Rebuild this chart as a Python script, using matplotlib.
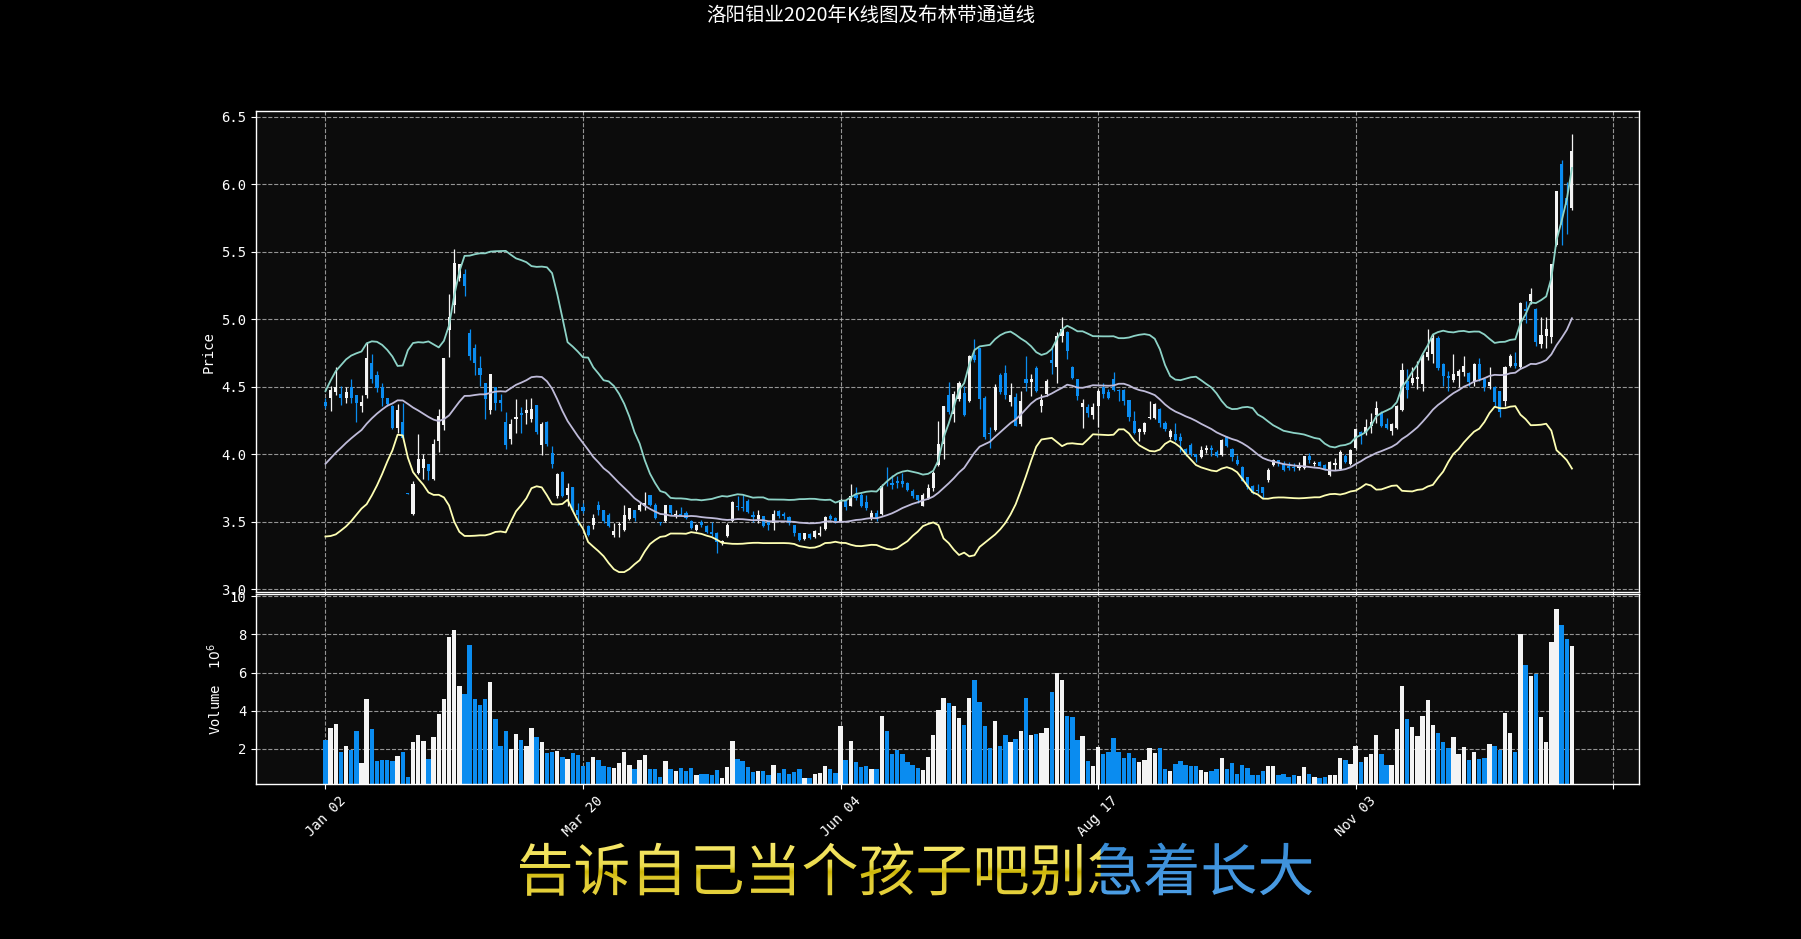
import numpy as np
import pandas as pd
import matplotlib
matplotlib.use('Agg')
import matplotlib.pyplot as plt
from matplotlib.patches import PathPatch
from matplotlib.textpath import TextPath
from matplotlib.font_manager import FontProperties
from matplotlib.transforms import Affine2D

plt.style.use('dark_background')
plt.rcParams['font.family'] = ['DejaVu Sans Mono', 'Noto Sans CJK SC']
plt.rcParams['axes.unicode_minus'] = False

# ---- data -------------------------------------------------------------
# closing prices of the last 19 sessions of Dec 2019 (warm-up for the 20-day band)
prev_closes = [3.66, 3.68, 3.70, 3.72, 3.74, 3.75, 3.79, 3.78, 3.76, 3.79,
               3.80, 3.82, 3.85, 3.87, 4.14, 4.22, 4.32, 4.40, 4.44]

opens = [4.39, 4.416, 4.46, 4.45, 4.416, 4.50, 4.436, 4.357, 4.443, 4.675,
         4.586, 4.497, 4.414, 4.36, 4.194, 4.236, 3.712, 3.559, 3.863, 3.895,
         3.925, 3.818, 4.098, 4.216, 4.92, 5.105, 5.307, 5.332, 4.90, 4.784,
         4.636, 4.53, 4.327, 4.50, 4.399, 4.236, 4.117, 4.258, 4.305, 4.305,
         4.258, 4.362, 4.068, 4.238, 4.011, 3.69, 3.87, 3.695, 3.759, 3.589,
         3.611, 3.468, 3.473, 3.621, 3.584, 3.554, 3.406, 3.475, 3.438, 3.522,
         3.584, 3.584, 3.616, 3.695, 3.628, 3.50, 3.505, 3.621, 3.547, 3.56,
         3.567, 3.505, 3.443, 3.50, 3.468, 3.428, 3.419, 3.344, 3.394, 3.505,
         3.616, 3.61, 3.653, 3.554, 3.521, 3.541, 3.504, 3.491, 3.578, 3.561,
         3.536, 3.479, 3.417, 3.372, 3.412, 3.387, 3.405, 3.447, 3.541, 3.528,
         3.504, 3.66, 3.62, 3.70, 3.702, 3.645, 3.529, 3.566, 3.561, 3.794,
         3.786, 3.80, 3.80, 3.784, 3.727, 3.695, 3.62, 3.677, 3.752, 3.918,
         4.074, 4.439, 4.298, 4.409, 4.454, 4.397, 4.732, 4.784, 4.414, 4.16,
         4.179, 4.586, 4.60, 4.387, 4.427, 4.228, 4.556, 4.536, 4.638, 4.357,
         4.444, 4.697, 4.648, 4.878, 4.903, 4.65, 4.556, 4.352, 4.352, 4.288,
         4.357, 4.501, 4.464, 4.556, 4.476, 4.474, 4.402, 4.246, 4.166, 4.166,
         4.268, 4.266, 4.333, 4.233, 4.127, 4.151, 4.129, 4.04, 4.072, 4.0,
         3.98, 4.03, 4.05, 4.02, 3.993, 4.127, 4.04, 3.96, 3.906, 3.829,
         3.767, 3.737, 3.757, 3.811, 3.918, 3.955, 3.93, 3.91, 3.905, 3.898,
         3.898, 3.985, 3.928, 3.94, 3.923, 3.849, 3.923, 3.891, 3.99, 3.93,
         4.047, 4.164, 4.164, 4.213, 4.288, 4.303, 4.221, 4.176, 4.196, 4.325,
         4.543, 4.531, 4.56, 4.521, 4.72, 4.742, 4.865, 4.668, 4.577, 4.553,
         4.582, 4.612, 4.602, 4.533, 4.668, 4.558, 4.504, 4.496, 4.472, 4.398,
         4.651, 4.68, 4.644, 5.079, 5.135, 5.074, 4.816, 4.877, 4.872, 5.553,
         6.15, 5.90, 5.823]

highs = [4.42, 4.505, 4.65, 4.505, 4.50, 4.56, 4.44, 4.44, 4.833, 4.74,
         4.62, 4.53, 4.418, 4.364, 4.37, 4.38, 3.712, 3.80, 4.152, 3.999,
         3.93, 4.117, 4.337, 4.715, 5.184, 5.522, 5.41, 5.37, 4.93, 4.82,
         4.727, 4.53, 4.596, 4.50, 4.45, 4.31, 4.258, 4.41, 4.35, 4.41,
         4.414, 4.365, 4.241, 4.25, 4.06, 3.86, 3.88, 3.79, 3.76, 3.636,
         3.64, 3.473, 3.557, 3.653, 3.585, 3.562, 3.493, 3.50, 3.623, 3.60,
         3.591, 3.646, 3.72, 3.70, 3.636, 3.502, 3.628, 3.625, 3.586, 3.61,
         3.579, 3.517, 3.485, 3.512, 3.473, 3.50, 3.424, 3.369, 3.488, 3.653,
         3.69, 3.70, 3.67, 3.579, 3.59, 3.545, 3.505, 3.59, 3.59, 3.573,
         3.546, 3.48, 3.42, 3.42, 3.417, 3.442, 3.466, 3.541, 3.561, 3.536,
         3.677, 3.665, 3.777, 3.76, 3.71, 3.70, 3.586, 3.586, 3.777, 3.908,
         3.85, 3.84, 3.86, 3.794, 3.744, 3.702, 3.715, 3.777, 3.876, 4.248,
         4.36, 4.533, 4.471, 4.546, 4.509, 4.732, 4.856, 4.79, 4.432, 4.20,
         4.519, 4.60, 4.665, 4.531, 4.452, 4.469, 4.73, 4.593, 4.655, 4.444,
         4.556, 4.792, 4.903, 5.015, 4.916, 4.655, 4.556, 4.412, 4.37, 4.377,
         4.486, 4.531, 4.481, 4.61, 4.486, 4.481, 4.402, 4.32, 4.196, 4.241,
         4.395, 4.382, 4.345, 4.246, 4.184, 4.233, 4.159, 4.047, 4.084, 4.005,
         4.06, 4.072, 4.072, 4.035, 4.114, 4.134, 4.047, 3.998, 3.911, 3.829,
         3.774, 3.782, 3.757, 3.898, 3.965, 3.96, 3.948, 3.94, 3.935, 3.94,
         3.99, 4.01, 3.948, 3.948, 3.93, 3.948, 3.973, 4.035, 4.005, 4.04,
         4.196, 4.171, 4.258, 4.308, 4.395, 4.32, 4.27, 4.233, 4.362, 4.675,
         4.635, 4.643, 4.69, 4.742, 4.93, 4.889, 4.877, 4.673, 4.619, 4.742,
         4.631, 4.73, 4.607, 4.68, 4.71, 4.563, 4.644, 4.509, 4.472, 4.656,
         4.742, 4.759, 5.128, 5.135, 5.233, 5.086, 5.02, 5.02, 5.413, 5.951,
         6.18, 6.02, 6.376]

lows = [4.34, 4.32, 4.44, 4.364, 4.38, 4.38, 4.238, 4.31, 4.418, 4.53,
        4.465, 4.357, 4.357, 4.184, 4.16, 4.11, 3.707, 3.55, 3.851, 3.818,
        3.81, 3.809, 4.019, 4.179, 4.722, 5.048, 5.28, 5.17, 4.70, 4.59,
        4.505, 4.265, 4.295, 4.33, 4.32, 4.043, 4.08, 4.16, 4.16, 4.228,
        4.24, 4.147, 3.994, 4.06, 3.90, 3.68, 3.685, 3.616, 3.58, 3.473,
        3.562, 3.394, 3.448, 3.554, 3.493, 3.463, 3.389, 3.39, 3.431, 3.517,
        3.505, 3.579, 3.586, 3.616, 3.522, 3.473, 3.50, 3.554, 3.53, 3.54,
        3.522, 3.448, 3.431, 3.463, 3.419, 3.394, 3.27, 3.332, 3.389, 3.50,
        3.59, 3.58, 3.562, 3.50, 3.49, 3.46, 3.44, 3.44, 3.53, 3.52,
        3.479, 3.392, 3.355, 3.367, 3.372, 3.38, 3.392, 3.442, 3.516, 3.491,
        3.496, 3.59, 3.615, 3.66, 3.61, 3.59, 3.516, 3.504, 3.553, 3.764,
        3.74, 3.75, 3.76, 3.727, 3.677, 3.64, 3.615, 3.67, 3.727, 3.913,
        3.963, 4.298, 4.236, 4.397, 4.285, 4.385, 4.682, 4.333, 4.114, 4.05,
        4.171, 4.444, 4.412, 4.357, 4.208, 4.208, 4.469, 4.432, 4.464, 4.313,
        4.432, 4.593, 4.531, 4.829, 4.705, 4.556, 4.402, 4.196, 4.278, 4.258,
        4.201, 4.419, 4.407, 4.469, 4.395, 4.362, 4.246, 4.154, 4.097, 4.154,
        4.258, 4.258, 4.203, 4.171, 4.114, 4.097, 4.015, 3.985, 3.99, 3.94,
        3.973, 4.01, 3.985, 3.98, 3.985, 4.055, 3.948, 3.923, 3.799, 3.742,
        3.707, 3.712, 3.675, 3.792, 3.911, 3.911, 3.873, 3.886, 3.88, 3.886,
        3.891, 3.935, 3.916, 3.911, 3.886, 3.841, 3.886, 3.881, 3.935, 3.923,
        4.04, 4.079, 4.146, 4.159, 4.233, 4.203, 4.184, 4.146, 4.189, 4.32,
        4.419, 4.511, 4.484, 4.472, 4.70, 4.68, 4.627, 4.509, 4.472, 4.533,
        4.496, 4.582, 4.509, 4.509, 4.545, 4.472, 4.484, 4.361, 4.275, 4.361,
        4.644, 4.636, 4.631, 4.975, 5.111, 4.799, 4.791, 4.79, 4.823, 5.545,
        5.553, 5.63, 5.81]

closes = [4.36, 4.48, 4.50, 4.416, 4.465, 4.416, 4.382, 4.389, 4.71, 4.557,
          4.49, 4.414, 4.374, 4.194, 4.33, 4.122, 3.707, 3.781, 3.969, 3.969,
          3.873, 4.078, 4.283, 4.71, 5.019, 5.419, 5.406, 5.246, 4.727, 4.675,
          4.591, 4.411, 4.596, 4.381, 4.377, 4.068, 4.221, 4.275, 4.29, 4.325,
          4.332, 4.164, 4.221, 4.073, 3.925, 3.851, 3.69, 3.752, 3.591, 3.552,
          3.577, 3.406, 3.530, 3.591, 3.505, 3.468, 3.431, 3.487, 3.554, 3.599,
          3.525, 3.623, 3.641, 3.621, 3.527, 3.493, 3.623, 3.562, 3.554, 3.55,
          3.53, 3.456, 3.48, 3.473, 3.424, 3.411, 3.35, 3.357, 3.48, 3.646,
          3.608, 3.60, 3.572, 3.537, 3.553, 3.467, 3.474, 3.561, 3.546, 3.546,
          3.491, 3.417, 3.367, 3.417, 3.38, 3.429, 3.42, 3.536, 3.521, 3.504,
          3.665, 3.61, 3.69, 3.68, 3.615, 3.603, 3.566, 3.521, 3.764, 3.784,
          3.774, 3.784, 3.777, 3.734, 3.69, 3.66, 3.702, 3.752, 3.864, 4.074,
          4.36, 4.31, 4.447, 4.529, 4.29, 4.727, 4.702, 4.407, 4.127, 4.15,
          4.501, 4.464, 4.439, 4.439, 4.213, 4.392, 4.531, 4.561, 4.469, 4.40,
          4.543, 4.68, 4.878, 4.928, 4.762, 4.566, 4.432, 4.377, 4.308, 4.352,
          4.469, 4.444, 4.414, 4.476, 4.469, 4.395, 4.275, 4.159, 4.191, 4.233,
          4.278, 4.37, 4.233, 4.184, 4.169, 4.109, 4.097, 4.005, 4.005, 3.98,
          4.035, 4.05, 4.035, 3.985, 4.109, 4.06, 3.98, 3.931, 3.806, 3.757,
          3.712, 3.73, 3.712, 3.881, 3.955, 3.935, 3.886, 3.90, 3.90, 3.916,
          3.985, 3.955, 3.935, 3.916, 3.891, 3.94, 3.935, 4.015, 3.943, 4.035,
          4.184, 4.139, 4.201, 4.238, 4.345, 4.213, 4.194, 4.221, 4.357, 4.623,
          4.476, 4.566, 4.572, 4.73, 4.76, 4.865, 4.636, 4.582, 4.568, 4.595,
          4.614, 4.656, 4.533, 4.668, 4.558, 4.496, 4.533, 4.386, 4.317, 4.644,
          4.725, 4.651, 5.123, 5.064, 5.184, 4.833, 4.882, 4.926, 5.413, 5.951,
          5.70, 5.85, 6.246]

# daily volume, unit 10^6
volumes = [2.47, 3.11, 3.32, 1.84, 2.16, 1.95, 2.95, 1.26, 4.63, 3.05,
           1.37, 1.42, 1.42, 1.37, 1.63, 1.84, 0.53, 2.37, 2.74, 2.42,
           1.47, 2.63, 3.84, 4.63, 7.89, 8.26, 5.32, 4.89, 7.47, 4.63,
           4.32, 4.63, 5.53, 3.58, 2.16, 2.95, 2.00, 2.79, 2.47, 2.16,
           3.11, 2.63, 2.37, 1.79, 1.84, 1.89, 1.58, 1.47, 1.79, 1.68,
           1.11, 1.32, 1.58, 1.42, 1.11, 1.05, 1.00, 1.26, 1.84, 1.16,
           0.95, 1.42, 1.68, 0.95, 0.95, 0.53, 1.37, 0.95, 0.84, 1.00,
           0.84, 1.00, 0.63, 0.68, 0.68, 0.63, 0.89, 0.47, 1.05, 2.42,
           1.47, 1.37, 1.05, 0.79, 0.84, 0.84, 0.63, 1.16, 0.74, 0.95,
           0.68, 0.79, 0.95, 0.47, 0.47, 0.68, 0.74, 1.11, 0.95, 0.74,
           3.21, 1.42, 2.42, 1.32, 1.05, 1.11, 0.95, 0.95, 3.74, 2.95,
           1.74, 1.95, 1.74, 1.32, 1.16, 1.00, 0.89, 1.58, 2.74, 4.05,
           4.67, 4.40, 4.26, 3.61, 3.25, 4.67, 5.63, 4.46, 3.21, 2.05,
           3.46, 2.16, 2.74, 2.37, 2.53, 2.95, 4.67, 2.74, 2.79, 2.84,
           3.11, 5.00, 6.00, 5.63, 3.72, 3.67, 2.47, 2.68, 1.37, 1.11,
           2.11, 1.74, 1.84, 2.58, 1.84, 1.53, 1.79, 1.53, 1.32, 1.42,
           2.05, 1.79, 2.05, 0.95, 0.84, 1.21, 1.37, 1.16, 1.11, 1.11,
           0.89, 0.79, 0.84, 0.95, 1.53, 0.95, 1.26, 0.68, 1.16, 1.00,
           0.63, 0.63, 0.84, 1.11, 1.11, 0.63, 0.68, 0.53, 0.63, 0.58,
           1.05, 0.68, 0.53, 0.47, 0.53, 0.63, 0.63, 1.53, 1.42, 1.21,
           2.16, 1.32, 1.58, 1.74, 2.74, 1.74, 1.16, 1.16, 3.05, 5.32,
           3.58, 3.16, 2.68, 3.74, 4.58, 3.26, 2.84, 2.37, 2.05, 2.63,
           1.74, 2.11, 1.42, 1.84, 1.47, 1.53, 2.26, 2.16, 1.95, 3.89,
           2.84, 1.84, 8.00, 6.42, 5.84, 5.95, 3.68, 2.37, 7.63, 9.32,
           8.47, 7.74, 7.37]

# 2020 Shanghai trading calendar
holidays = ['2020-01-01', '2020-01-24', '2020-01-27', '2020-01-28', '2020-01-29',
            '2020-01-30', '2020-01-31', '2020-04-06', '2020-05-01', '2020-05-04',
            '2020-05-05', '2020-06-25', '2020-06-26', '2020-10-01', '2020-10-02',
            '2020-10-05', '2020-10-06', '2020-10-07', '2020-10-08']
dates = pd.bdate_range('2020-01-01', '2020-12-31')
dates = dates[~dates.isin(pd.to_datetime(holidays))]

caption = '告诉自己当个孩子吧别急着长大'

# ---- derived ----------------------------------------------------------
opens = np.array(opens)
highs = np.array(highs)
lows = np.array(lows)
closes = np.array(closes)
volumes = np.array(volumes)
n = len(closes)
x = np.arange(n)

all_close = pd.Series(list(prev_closes) + list(closes))
mid = all_close.rolling(20).mean().values[-n:]
sd = all_close.rolling(20).std().values[-n:]
upper = mid + 2 * sd
lower = mid - 2 * sd

UP = '#f4f4f4'
DOWN = '#0a8cf0'
colors = np.where(closes >= opens, UP, DOWN)

# ---- figure -----------------------------------------------------------
fig = plt.figure(figsize=(18.01, 9.39), dpi=100, facecolor='black')
ax1 = fig.add_axes([0.1421, 0.3695, 0.7679, 0.5119])
ax2 = fig.add_axes([0.1421, 0.165, 0.7679, 0.2024], sharex=ax1)

for ax in (ax1, ax2):
    ax.set_facecolor('#0c0c0c')
    for s in ax.spines.values():
        s.set_color('white')
        s.set_linewidth(1.0)
    ax.grid(True, color='#b8b8b8', linestyle='--', linewidth=0.8, alpha=0.8)
    ax.set_axisbelow(True)
    ax.tick_params(colors='white', labelsize=10)

# candles
ax1.vlines(x, lows, highs, colors=colors, linewidth=0.9)
body = np.maximum(np.abs(closes - opens), 0.008)
ax1.bar(x, body, width=0.6, bottom=np.minimum(opens, closes), color=colors, linewidth=0)

ax1.plot(x, upper, color='#8dd3c7', linewidth=1.3)
ax1.plot(x, lower, color='#feffb3', linewidth=1.3)
ax1.plot(x, mid, color='#bfbbd9', linewidth=1.3)

ax1.set_ylim(2.98, 6.54)
ax1.set_yticks(np.arange(3.0, 6.51, 0.5))
ax1.set_ylabel('Price', color='white', fontsize=10)
plt.setp(ax1.get_xticklabels(), visible=False)

# volume
ax2.bar(x, volumes, width=0.85, color=colors, linewidth=0)
ax2.set_ylim(0.16, 10.12)
ax2.set_yticks([2, 4, 6, 8, 10])
ax2.set_ylabel(r'Volume  $10^{6}$', color='white', fontsize=10)

ticks = list(range(0, 251, 50))
ax2.set_xticks(ticks)
ax2.set_xticklabels([dates[i].strftime('%b %d') if i < n else '' for i in ticks],
                    rotation=45)
ax1.set_xlim(-13.5, 255)

fig.text(0.4836, 0.983, '洛阳钼业2020年K线图及布林带通道线', color='white',
         fontsize=14, ha='center', va='center', family=['Noto Sans CJK SC'])

# karaoke style caption at the bottom, filled with a vertical gradient
cap = fig.add_axes([0, 0, 1, 1], zorder=5)
cap.set_facecolor('none')
cap.axis('off')
W, H = 1801, 939
tp = TextPath((0, 0), caption, size=56, prop=FontProperties(family='Noto Sans CJK SC'))
bb = tp.get_extents()
k = (1312 - 520) / bb.width
tp = Affine2D().translate(-bb.x0, -(bb.y0 + bb.y1) / 2).scale(k).translate(520, 69.8).transform_path(tp)
patch = PathPatch(tp, facecolor='none', edgecolor='none')
cap.add_patch(patch)

bb = tp.get_extents()
ny, nx = 80, 900
t = np.linspace(0, 1, ny)
yel = np.stack([np.interp(t, [0, 0.3, 0.45, 0.55, 1], c) for c in
                ([0.90, 0.88, 0.80, 0.92, 0.97],
                 [0.82, 0.80, 0.71, 0.86, 0.91],
                 [0.24, 0.20, 0.02, 0.30, 0.42])], axis=-1)
blu = np.stack([np.interp(t, [0, 1], c) for c in
                ([0.30, 0.22], [0.62, 0.55], [0.90, 0.84])], axis=-1)
xs = np.linspace(bb.x0, bb.x1, nx)
img = np.where((xs < 1100)[None, :, None], yel[:, None, :], blu[:, None, :])
im = cap.imshow(img, extent=[bb.x0, bb.x1, bb.y0, bb.y1], origin='lower',
                aspect='auto', interpolation='bilinear')
im.set_clip_path(patch)
cap.set_xlim(0, W)
cap.set_ylim(0, H)

fig.savefig('out.png', dpi=100, facecolor='black')
